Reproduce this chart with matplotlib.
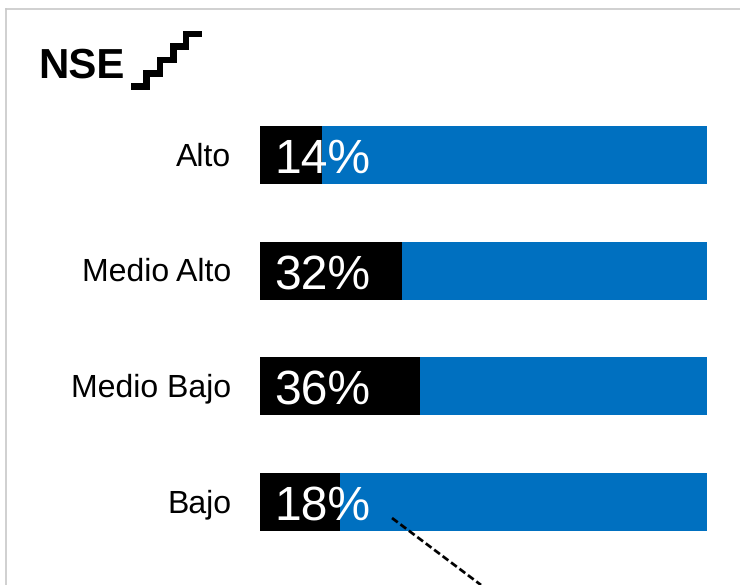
import matplotlib
matplotlib.use("Agg")
import matplotlib.pyplot as plt
from matplotlib.patches import Rectangle

plt.rcParams["font.family"] = ["Liberation Sans", "DejaVu Sans"]
plt.rcParams["text.hinting"] = "none"
plt.rcParams["text.hinting_factor"] = 1

W, H = 740, 585

categories = ["Alto", "Medio Alto", "Medio Bajo", "Bajo"]
shares = [14, 32, 36, 18]
# black segment length, on a 0-100 scale
black_part = [13.8, 31.7, 35.8, 17.8]
total = 100

fig = plt.figure(figsize=(W / 100, H / 100), dpi=100)

# bars
ax = fig.add_axes([260 / W, 1 - 559.5 / H, 447 / W, 462 / H])
ax.set_xlim(0, total)
ax.set_ylim(3.5, -0.5)
ax.axis("off")
ypos = list(range(len(categories)))
ax.barh(ypos, total, height=0.5, color="#0070c0")
ax.barh(ypos, black_part, height=0.5, color="black")

# whole-figure overlay in pixel coordinates, for frame, title, labels and arrow
bg = fig.add_axes([0, 0, 1, 1])
bg.set_xlim(0, W)
bg.set_ylim(H, 0)
bg.axis("off")
bg.patch.set_alpha(0)
bg.plot([6, 6], [585, 9], color="#c8c8c8", lw=1.2)
bg.plot([6, 740], [9, 9], color="#c8c8c8", lw=1.2)
bg.text(38, 78, "NSE", fontsize=30.5, fontweight="bold", va="baseline", ha="left")

# stair icon
stairs = [(131, 83, 19, 7), (143, 70, 7, 20), (143, 70, 20, 7),
          (157, 57, 6, 20), (157, 57, 20, 6), (170, 43, 7, 20),
          (170, 43, 19, 7), (183, 31, 6, 19), (183, 31, 19, 6)]
for x, y, w, h in stairs:
    bg.add_patch(Rectangle((x, y), w, h, color="black", lw=0))

bg.plot([392, 481], [518, 585], color="black", lw=2.0, ls=(0, (2.6, 1.2)))

rows_y = [155, 270.5, 386, 501.5]
for y, name, s in zip(rows_y, categories, shares):
    bg.text(231.5, y + 10.5, name, ha="right", va="baseline", fontsize=23)
    bg.text(274.5, y + 18, f"{s}%", ha="left", va="baseline", fontsize=34.5, color="white")

fig.savefig("out.png", dpi=100)
